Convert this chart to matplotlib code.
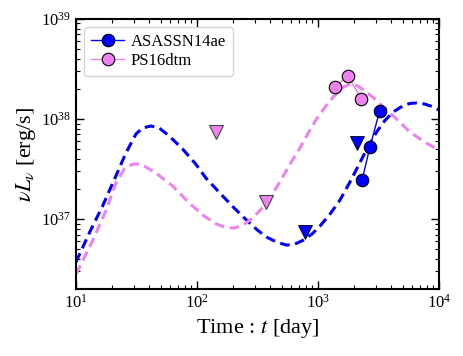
import matplotlib
matplotlib.use("Agg")
import matplotlib.pyplot as plt
import numpy as np

plt.rcParams["font.family"] = ["Liberation Serif", "DejaVu Serif"]
plt.rcParams["mathtext.fontset"] = "stix"

# observed points (days, erg/s)
asassn_t = [2312, 2692, 3236]
asassn_L = [2.43e37, 5.26e37, 1.2e38]
asassn_lim_t = [2100, 782]
asassn_lim_L = [5.8e37, 7.5e36]

ps16_t = [1390, 1757, 2280]
ps16_L = [2.08e38, 2.7e38, 1.6e38]
ps16_lim_t = [143, 370]
ps16_lim_L = [7.45e37, 1.48e37]

# model curves (log10 t, log10 L)
asassn_model_logt = [1.0, 1.11, 1.22, 1.33, 1.413, 1.496, 1.551, 1.62, 1.689, 1.771,
                     1.882, 1.99, 2.074, 2.19, 2.30, 2.41, 2.50, 2.576, 2.66, 2.741,
                     2.81, 2.879, 2.95, 3.017, 3.10, 3.182, 3.26, 3.32, 3.40, 3.485,
                     3.55, 3.622, 3.70, 3.76, 3.816, 3.88, 3.93, 4.0]
asassn_model_logL = [36.57, 36.86, 37.13, 37.43, 37.66, 37.85, 37.91, 37.93, 37.91, 37.83,
                     37.70, 37.55, 37.41, 37.26, 37.12, 36.99, 36.89, 36.82, 36.77, 36.74,
                     36.75, 36.79, 36.85, 36.93, 37.05, 37.19, 37.36, 37.50, 37.69, 37.87,
                     37.98, 38.07, 38.13, 38.155, 38.16, 38.15, 38.13, 38.09]

ps16_model_logt = [1.0, 1.03, 1.14, 1.25, 1.33, 1.40, 1.44, 1.48, 1.52, 1.551, 1.661,
                   1.80, 1.936, 2.06, 2.163, 2.23, 2.30, 2.37, 2.438, 2.50, 2.576,
                   2.64, 2.713, 2.78, 2.851, 2.92, 2.989, 3.06, 3.127, 3.20, 3.264,
                   3.33, 3.40, 3.47, 3.54, 3.65, 3.76, 3.87, 3.98, 4.0]
ps16_model_logL = [36.45, 36.52, 36.79, 37.09, 37.36, 37.50, 37.535, 37.55, 37.55, 37.54, 37.46,
                   37.33, 37.16, 37.03, 36.95, 36.92, 36.91, 36.93, 36.99, 37.06, 37.16,
                   37.28, 37.43, 37.57, 37.71, 37.86, 38.00, 38.12, 38.22, 38.31, 38.35,
                   38.33, 38.27, 38.20, 38.12, 38.00, 37.87, 37.78, 37.70, 37.68]

blue = "blue"
pink = "violet"

fig = plt.figure(figsize=(4.63, 3.56), dpi=100)
ax = fig.add_axes([0.164, 0.188, 0.784, 0.759])

ax.plot(10 ** np.array(asassn_model_logt), 10 ** np.array(asassn_model_logL),
        ls=(0, (3.2, 1.8)), color=blue, lw=2.2)
ax.plot(10 ** np.array(ps16_model_logt), 10 ** np.array(ps16_model_logL),
        ls=(0, (3.2, 1.8)), color=pink, lw=2.2)

ax.plot(asassn_t, asassn_L, "-o", color=blue, lw=1.0, ms=9, mec="black", mew=0.8,
        label="ASASSN14ae")
ax.plot(ps16_t, ps16_L, "-o", color=pink, lw=1.0, ms=9, mec="black", mew=0.8,
        label="PS16dtm")
ax.plot(asassn_lim_t, asassn_lim_L, "v", color=blue, ms=10, mec="black", mew=0.6)
ax.plot(ps16_lim_t, ps16_lim_L, "v", color=pink, ms=10, mec="#444444", mew=0.8)

ax.set_xscale("log")
ax.set_yscale("log")
ax.set_xlim(10, 1e4)
ax.set_ylim(2e36, 1e39)

ax.tick_params(which="both", direction="in", top=True, right=True, labelsize=12)
ax.tick_params(which="major", length=6, width=1.0)
ax.tick_params(which="minor", length=3, width=0.8)
for sp in ax.spines.values():
    sp.set_linewidth(1.5)

ax.set_xlabel(r"Time : $t$ [day]", fontsize=16)
ax.set_ylabel(r"$\nu L_\nu$ [erg/s]", fontsize=16, labelpad=2)

ax.legend(loc="upper left", fontsize=12, handlelength=2.0, borderpad=0.4,
          labelspacing=0.2, handletextpad=0.4)

fig.savefig("out.png", dpi=100)
